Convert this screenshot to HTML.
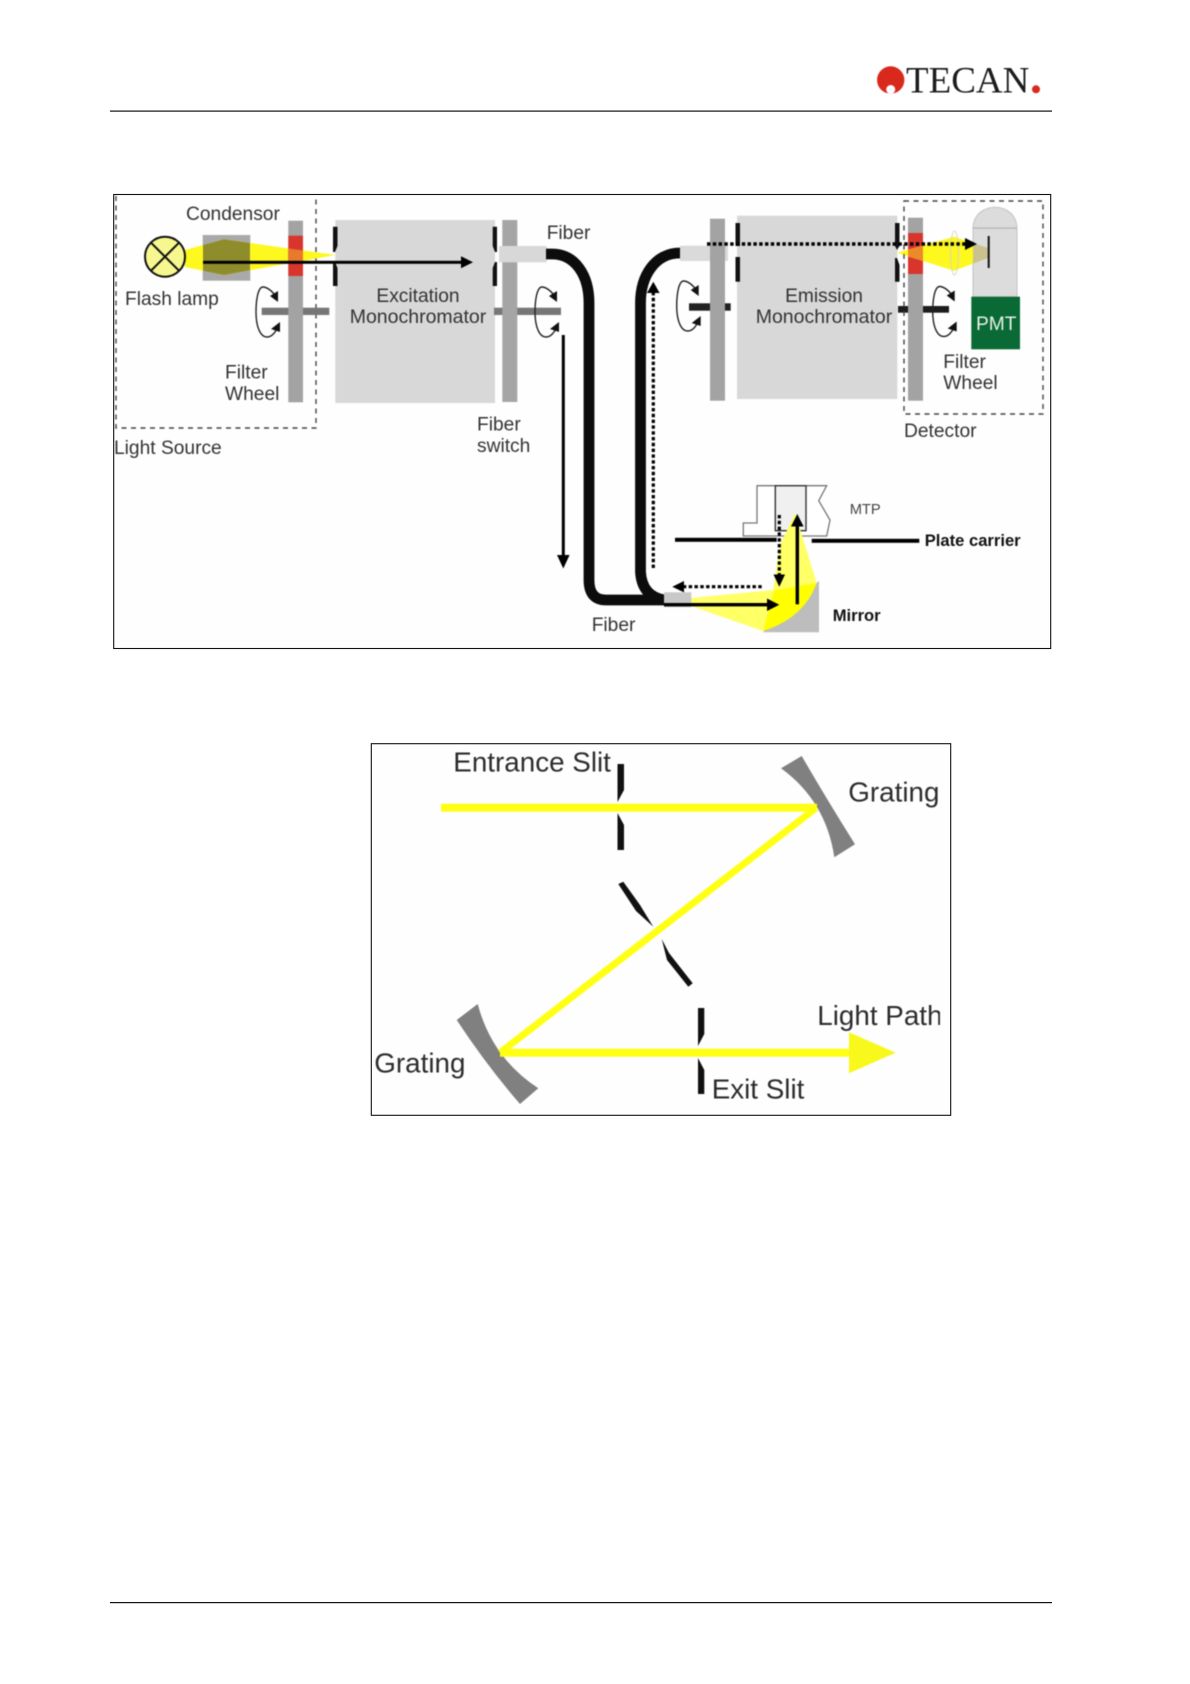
<!DOCTYPE html>
<html lang="en">
<head>
<meta charset="utf-8">
<title>Optical path diagram</title>
<style>
html,body{margin:0;padding:0;background:#fff;width:1190px;height:1684px;overflow:hidden}
svg{display:block}
text{font-family:"Liberation Sans",sans-serif;font-size:19.2px;fill:#333}
.mono{font-size:19.5px}
.big{font-size:27.8px;fill:#2c2c2c}
.bold{font-weight:bold;font-size:16.6px;fill:#111}
.soft{filter:blur(0.45px)}
</style>
</head>
<body>
<svg width="1190" height="1684" viewBox="0 0 1190 1684" xmlns="http://www.w3.org/2000/svg">
<defs>
<g id="rot">
<path d="M20,-15 C16,-22 10,-25 7,-25 C2,-25 0,-12 0,0 C0,14 4,25 11,25 C16,25 20,20 23,12" fill="none" stroke="#222" stroke-width="1.4"/>
<polygon points="22,-21 22,-10 14,-16" fill="#111"/>
<polygon points="24,10 24,20 15,17" fill="#111"/>
</g>
<clipPath id="lp"><rect x="800" y="1000" width="140" height="40"/></clipPath>
</defs>

<!-- header -->
<g class="soft">
<circle cx="890.7" cy="80" r="13.7" fill="#d9291c"/>
<circle cx="890.7" cy="89.5" r="4.5" fill="#fff"/>
<text x="906" y="92.7" style="font-family:'Liberation Serif',serif;font-size:37px;fill:#1c1c1c">TECAN</text>
<circle cx="1036" cy="89.3" r="4" fill="#d9291c"/>
</g>
<rect x="110" y="110.5" width="942" height="1.2" fill="#111"/>
<rect x="110" y="1602" width="942" height="1.2" fill="#111"/>

<!-- diagram 1 frame -->
<rect x="113.7" y="194.5" width="937" height="454" fill="#fefefe" stroke="#111" stroke-width="1.1"/>

<g class="soft">
<!-- light source dashed -->
<path d="M116,196 V428 H316 V196" fill="none" stroke="#444" stroke-width="1.4" stroke-dasharray="5 4.5"/>

<!-- lamp + condenser + beam -->
<rect x="202.7" y="235" width="47.6" height="45.7" fill="#a9a9a9"/>
<polygon points="185,250 224,239.3 335,255 224,275 185,267" fill="#fdf81e"/>
<polygon points="203,245 224,239.3 250,243 250,270.3 224,275 203,270.7" fill="#8f8c2c"/>

<!-- filter wheel 1 -->
<rect x="261.7" y="307.7" width="67.6" height="7.3" fill="#777"/>
<rect x="288.3" y="220.7" width="14.7" height="181.6" fill="#a3a3a3"/>
<rect x="288.3" y="235.7" width="14.7" height="40.3" fill="#d8352c"/>
<polygon points="288.3,248.4 303,250.5 303,260.8 288.3,263.5" fill="#e97a2c"/>
<polygon points="303,250.5 335,255 303,260.8" fill="#fdf81e"/>
<circle cx="165" cy="256.7" r="20" fill="#f6f78e" stroke="#111" stroke-width="2"/>
<path d="M151,242.7 L179,270.7 M179,242.7 L151,270.7" stroke="#111" stroke-width="2"/>
<use href="#rot" x="256" y="312"/>

<!-- excitation monochromator -->
<rect x="335.3" y="220" width="159.7" height="183" fill="#d8d8d8"/>
<polygon points="333,226.7 337.5,226.7 337.5,246 335,252 333,252" fill="#111"/>
<polygon points="333,262 335,262 337.5,268 337.5,286 333,286" fill="#111"/>
<polygon points="492.7,226.7 497,226.7 497,252 495,252 492.7,246" fill="#111"/>
<polygon points="495,262 497,262 497,286 492.7,286 492.7,268" fill="#111"/>
<rect x="494" y="307.7" width="67" height="7.3" fill="#777"/>
<rect x="502.3" y="220" width="15" height="182" fill="#a5a5a5"/>
<rect x="499" y="246" width="47.7" height="16.3" fill="#d8d8d8"/>
<use href="#rot" x="535" y="312"/>

<!-- fibers -->
<path d="M546,254 H552 C575,254 589,275 589,303 V580 Q589,600 606,600 H664" fill="none" stroke="#0c0c0c" stroke-width="10.8"/>
<path d="M680,253 C655,253 640.5,276 640.5,303 V572 Q642,596 664,600" fill="none" stroke="#0c0c0c" stroke-width="10.8"/>

<!-- main arrow -->
<rect x="203" y="260.8" width="260" height="3" fill="#000"/>
<polygon points="473,262.3 461,256.3 461,268.3" fill="#000"/>

<!-- down arrow -->
<rect x="561.8" y="335" width="3" height="222" fill="#000"/>
<polygon points="563.3,568.5 557,555 569.6,555" fill="#000"/>

<!-- emission side -->
<rect x="689" y="303.3" width="41.7" height="7.4" fill="#222"/>
<rect x="680" y="245.7" width="48" height="15.3" fill="#dadada"/>
<rect x="710" y="218.7" width="15" height="182" fill="#a3a3a3"/>
<rect x="737" y="215.7" width="160.3" height="183.3" fill="#d8d8d8"/>
<polygon points="735.5,223 740,223 740,246 735.5,246" fill="#111"/>
<polygon points="735.5,257 740,257 740,281.7 735.5,281.7" fill="#111"/>
<polygon points="895,223 899.5,223 899.5,246 897,250 895,246" fill="#111"/>
<polygon points="895,258 897,258 899.5,265 899.5,281.7 895,281.7" fill="#111"/>
<use href="#rot" x="676.7" y="306"/>

<!-- filter wheel 2 / detector -->
<rect x="898" y="306" width="51" height="6.7" fill="#1c1c1c"/>
<rect x="908" y="217.7" width="15" height="183" fill="#a3a3a3"/>
<rect x="908" y="233" width="15" height="41" fill="#d8352c"/>
<path d="M973,296.7 V229 C973,200 1017,200 1017,229 V296.7 Z" fill="#dcdcdc" stroke="#c4c4c4" stroke-width="1"/>
<rect x="973" y="227.6" width="44" height="1" fill="#aaa"/>
<polygon points="897,252.7 954,236.7 973,243 973,263.6 954,270.7" fill="#fdf81e"/>
<polygon points="908,249.6 923,245.4 923,261 908,256.7" fill="#ec8a2a"/>
<polygon points="973,243 988,248 988,258 973,263.6" fill="#c9c290"/>
<ellipse cx="954.5" cy="253" rx="4" ry="22" fill="none" stroke="#d8d8c0" stroke-width="1"/>
<rect x="987.7" y="236" width="2" height="32" fill="#111"/>
<rect x="971.3" y="296.7" width="48.7" height="52.6" fill="#0a6a35"/>
<use href="#rot" x="932.7" y="311.5"/>
<path d="M904,201 H1043 V414 H904 Z" fill="none" stroke="#444" stroke-width="1.4" stroke-dasharray="5 4.5"/>

<!-- top dotted arrow -->
<path d="M707,244 H966" fill="none" stroke="#000" stroke-width="3.4" stroke-dasharray="3.4 2.4"/>
<polygon points="977,244 965,238 965,250" fill="#000"/>

<!-- dotted up arrow -->
<path d="M653.3,568 V293" fill="none" stroke="#000" stroke-width="3.2" stroke-dasharray="3.4 2.4"/>
<polygon points="653.3,281.7 647,293 659.6,293" fill="#000"/>

<!-- MTP -->
<path d="M743.3,536 V523 H757 V485.7 H826.7 L818.7,500.7 L830,520 L826.7,536 Z" fill="#fff" stroke="#777" stroke-width="1.3"/>
<rect x="775.3" y="485.7" width="30.7" height="45" fill="#f0f0f0" stroke="#333" stroke-width="1.4"/>
<rect x="675" y="537.8" width="101.7" height="4" fill="#000"/>
<rect x="811.7" y="538.8" width="107.6" height="4" fill="#000"/>

<!-- mirror + yellow -->
<polygon points="762.7,632.3 819,632.3 819,580.7" fill="#bdbdbd"/>
<polygon points="795,513 816.7,583 773,590 780,545" fill="#ffff66"/>
<polygon points="691,598 774,590 763,631 691,606" fill="#ffff66"/>
<path d="M774,590 L816.7,583 Q804,618 763,631 Z" fill="#ffff00"/>
<rect x="664" y="592.3" width="27.3" height="15" fill="#c8c8c8"/>

<!-- mirror arrows -->
<rect x="664" y="603" width="104" height="3.4" fill="#000"/>
<polygon points="779.3,604.7 767,598.5 767,611" fill="#000"/>
<rect x="795.6" y="526" width="3.4" height="78.3" fill="#000"/>
<polygon points="797.3,514 791,526.5 803.6,526.5" fill="#000"/>
<path d="M761.7,586.7 H683" fill="none" stroke="#000" stroke-width="3.2" stroke-dasharray="3.4 2.4"/>
<polygon points="672.3,586.7 684,581 684,592.4" fill="#000"/>
<path d="M779.3,515 V575" fill="none" stroke="#000" stroke-width="3.2" stroke-dasharray="3.4 2.4"/>
<polygon points="779.3,586.7 773.5,574.5 785,574.5" fill="#000"/>

<!-- labels diagram 1 -->
<text x="186" y="220">Condensor</text>
<text x="125" y="305">Flash lamp</text>
<text x="225" y="378.7">Filter</text>
<text x="225" y="400">Wheel</text>
<text x="114" y="454">Light Source</text>
<text x="418" y="302" text-anchor="middle">Excitation</text>
<text x="418" y="323" text-anchor="middle" class="mono">Monochromator</text>
<text x="546.7" y="239">Fiber</text>
<text x="477" y="430.7">Fiber</text>
<text x="477" y="452">switch</text>
<text x="824" y="302" text-anchor="middle">Emission</text>
<text x="824" y="323" text-anchor="middle" class="mono">Monochromator</text>
<text x="976" y="330" style="fill:#e8f0ea">PMT</text>
<text x="943.3" y="368">Filter</text>
<text x="943.3" y="389">Wheel</text>
<text x="904" y="437">Detector</text>
<text x="849.7" y="514" style="font-size:14.7px;fill:#444">MTP</text>
<text x="924.7" y="546" class="bold">Plate carrier</text>
<text x="832.7" y="621" class="bold">Mirror</text>
<text x="591.7" y="631">Fiber</text>
</g>

<!-- diagram 2 frame -->
<rect x="371.3" y="743.7" width="579.4" height="371.6" fill="#fefefe" stroke="#111" stroke-width="1.1"/>

<g class="soft">
<!-- gratings -->
<path d="M781,768.3 L801.7,756 Q826,798 855,844.3 L834.3,857.3 Q826,801 781,768.3 Z" fill="#808080"/>
<path d="M456.7,1020 L477.7,1004 Q492,1058 538.3,1088.3 L520,1104 Q487,1066 456.7,1020 Z" fill="#808080"/>

<!-- slits -->
<polygon points="617.5,764 624,764 624,790 617.5,802" fill="#111"/>
<polygon points="617.5,813 624,825 624,850 617.5,850" fill="#111"/>
<polygon points="618.3,884 623.3,881.7 640,905 653.3,926.7 636,911" fill="#111"/>
<polygon points="661.7,939 669,953 692.7,983.3 688.3,986.7 667,960" fill="#111"/>
<polygon points="698,1008 704.3,1008 704.3,1034 698,1046" fill="#111"/>
<polygon points="698,1058 704.3,1070 704.3,1094 698,1094" fill="#111"/>

<!-- yellow path -->
<rect x="441" y="803.7" width="376" height="8" fill="#ffff14"/>
<path d="M816,808 L500,1052.7" stroke="#ffff14" stroke-width="7" fill="none"/>
<rect x="500" y="1048.7" width="352" height="8" fill="#ffff14"/>
<polygon points="849,1032.3 895.7,1052.7 849,1073.3" fill="#f8f81c"/>

<!-- labels diagram 2 -->
<text x="453.3" y="771.7" class="big">Entrance Slit</text>
<text x="848.3" y="801.7" class="big">Grating</text>
<text x="374.3" y="1072.7" class="big">Grating</text>
<text x="817.3" y="1025" class="big" clip-path="url(#lp)">Light Path</text>
<text x="711.7" y="1098.3" class="big">Exit Slit</text>
</g>
</svg>
</body>
</html>
